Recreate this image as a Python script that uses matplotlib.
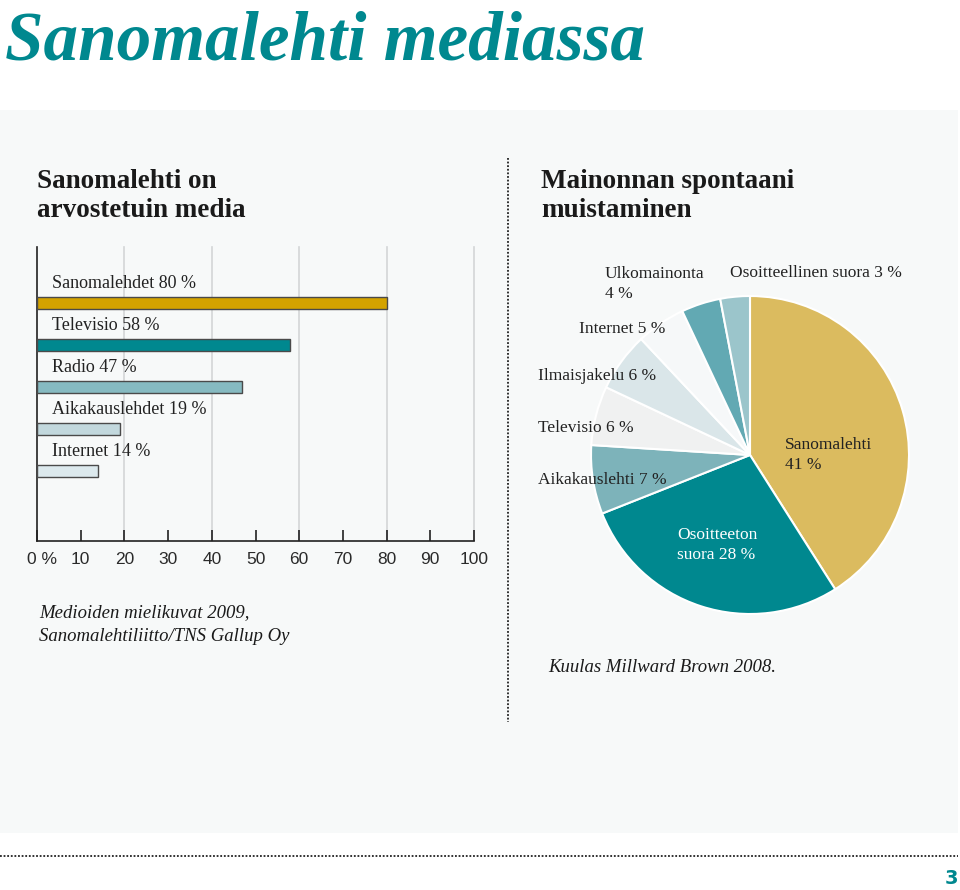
import matplotlib
matplotlib.use("Agg")
import matplotlib.pyplot as plt
import matplotlib.transforms as mtransforms
from matplotlib.patches import Rectangle
from matplotlib.lines import Line2D

W, H = 960, 890

# ---- data ----
bar_labels = ["Sanomalehdet 80 %", "Televisio 58 %", "Radio 47 %", "Aikakauslehdet 19 %", "Internet 14 %"]
bar_values = [80, 58, 47, 19, 14]
bar_colors = ["#d4a300", "#00888f", "#86bac1", "#c2d8dd", "#dce9ed"]
xticks = list(range(0, 101, 10))
xtick_labels = ["0 %"] + [str(t) for t in xticks[1:]]

pie_labels = ["Sanomalehti", "Osoitteeton suora", "Aikakauslehti", "Televisio",
              "Ilmaisjakelu", "Internet", "Ulkomainonta", "Osoitteellinen suora"]
pie_values = [41, 28, 7, 6, 6, 5, 4, 3]
pie_colors = ["#dbbb5f", "#00888f", "#7db3ba", "#f0f1f1", "#dae6e9", "#f6f8f9", "#62a9b3", "#9bc5cb"]

SERIF = "Liberation Serif"
SANS = "Liberation Sans"
TEAL = "#00888f"

def fx(x):
    return x / W

def fy(y):
    return 1 - y / H

fig = plt.figure(figsize=(W / 100, H / 100), dpi=100)
fig.patch.set_facecolor("white")

# panel background
fig.patches.append(Rectangle((fx(0), fy(833)), fx(958), (833 - 110) / H,
                             transform=fig.transFigure, facecolor="#f7f9f9",
                             edgecolor="none", zorder=-5))
# dotted separators
fig.add_artist(Line2D([fx(508), fx(508)], [fy(158), fy(722)], transform=fig.transFigure,
                      color="#222222", lw=1.3, linestyle=(0, (1, 1)), zorder=-1))
fig.add_artist(Line2D([fx(0), fx(958)], [fy(856), fy(856)], transform=fig.transFigure,
                      color="#222222", lw=1.3, linestyle=(0, (1, 1)), zorder=-1))

# title
fig.text(fx(5), fy(59), "Sanomalehti mediassa", family=SERIF, weight="bold", style="italic",
         fontsize=49.8, color=TEAL, va="baseline", ha="left")

# subtitles
for x0, lines in [(37, ["Sanomalehti on", "arvostetuin media"]),
                  (541, ["Mainonnan spontaani", "muistaminen"])]:
    for i, t in enumerate(lines):
        fig.text(fx(x0), fy(188 + 29 * i), t, family=SERIF, weight="bold", fontsize=19.5,
                 color="#1a1a1a", va="baseline", ha="left")

# ---- bar chart ----
top, bottom = 247, 541
axb = fig.add_axes([fx(37), fy(bottom), fx(474) - fx(37), (bottom - top) / H])
axb.set_facecolor("none")
unit = 42.0
first = 303
ypos = list(range(len(bar_values)))
axb.set_ylim((bottom - first) / unit, -(first - top) / unit)
axb.set_xlim(0, 100)
axb.barh(ypos, bar_values, height=12 / unit, color=bar_colors, edgecolor="#4a4a4a",
         linewidth=1, zorder=3, align="center")
for y, lab in zip(ypos, bar_labels):
    axb.text(3.5, y - 19 / unit, lab, family=SERIF, fontsize=13, color="#222222",
             va="center", ha="left", zorder=4)
for g in range(20, 101, 20):
    axb.axvline(g, color="#d3d6d7", lw=1.2, zorder=1, clip_on=False)
for s in ["top", "right"]:
    axb.spines[s].set_visible(False)
axb.spines["left"].set_color("#222222")
axb.spines["bottom"].set_color("#222222")
axb.spines["left"].set_linewidth(1.2)
axb.spines["bottom"].set_linewidth(1.2)
axb.set_yticks([])
axb.set_xticks(xticks)
axb.set_xticklabels(xtick_labels, family=SANS, fontsize=12.5, color="#2a2a2a")
axb.tick_params(axis="x", direction="in", length=8, width=1.2, color="#222222", pad=8)
first_lbl = axb.get_xticklabels()[0]
first_lbl.set_transform(first_lbl.get_transform() +
                        mtransforms.ScaledTranslation(5 / 100, 0, fig.dpi_scale_trans))

# sources
fig.text(fx(39), fy(617), "Medioiden mielikuvat 2009,", family=SERIF, style="italic",
         fontsize=13.5, color="#1a1a1a", va="baseline")
fig.text(fx(39), fy(641), "Sanomalehtiliitto/TNS Gallup Oy", family=SERIF, style="italic",
         fontsize=13.5, color="#1a1a1a", va="baseline")
fig.text(fx(548), fy(672), "Kuulas Millward Brown 2008.", family=SERIF, style="italic",
         fontsize=13.5, color="#1a1a1a", va="baseline")

# ---- pie chart ----
cx, cy, r = 750, 455, 159
axp = fig.add_axes([fx(cx - r), fy(cy + r), 2 * r / W, 2 * r / H])
axp.set_facecolor("none")
axp.pie(pie_values, colors=pie_colors, startangle=90, counterclock=False, radius=1,
        wedgeprops=dict(edgecolor="white", linewidth=1.5))
axp.set_xlim(-1, 1)
axp.set_ylim(-1, 1)
axp.set_aspect("auto")
axp.axis("off")

def lab(x, y, s, color="#222222"):
    fig.text(fx(x), fy(y), s, family=SERIF, fontsize=12.5, color=color,
             va="center", ha="left", linespacing=1.35, zorder=5)

lab(785, 455, f"{pie_labels[0]}\n{pie_values[0]} %")
lab(677, 545, "Osoitteeton\nsuora %d %%" % pie_values[1], color="white")
lab(538, 480, f"{pie_labels[2]} {pie_values[2]} %")
lab(538, 428, f"{pie_labels[3]} {pie_values[3]} %")
lab(538, 376, f"{pie_labels[4]} {pie_values[4]} %")
lab(579, 329, f"{pie_labels[5]} {pie_values[5]} %")
lab(605, 284, f"{pie_labels[6]}\n{pie_values[6]} %")
lab(730, 273, f"{pie_labels[7]} {pie_values[7]} %")

# page number
fig.text(fx(958), fy(878), "3", family="DejaVu Sans", weight="bold", fontsize=14,
         color=TEAL, va="center", ha="right")

fig.savefig("out.png", dpi=100, facecolor="white")
